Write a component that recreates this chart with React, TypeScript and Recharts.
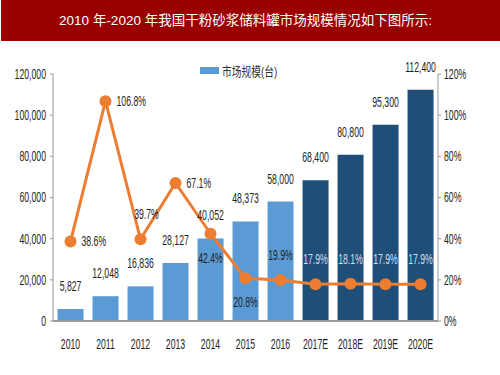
import React from 'react';
import { ComposedChart, Bar, Line, XAxis, YAxis, Cell, LabelList, Legend } from 'recharts';

const categories = ['2010', '2011', '2012', '2013', '2014', '2015', '2016', '2017E', '2018E', '2019E', '2020E'];
const marketSize = [5827, 12048, 16836, 28127, 40052, 48373, 58000, 68400, 80800, 95300, 112400];
const growthPct = [38.6, 106.8, 39.7, 67.1, 42.4, 20.8, 19.9, 17.9, 18.1, 17.9, 17.9];
const pctLabelPlacement = ['right', 'right', 'top', 'right', 'bottom', 'bottom', 'top', 'top', 'top', 'top', 'top'];
const leftTicks = [0, 20000, 40000, 60000, 80000, 100000, 120000];
const rightTicks = [0, 20, 40, 60, 80, 100, 120];

const data = categories.map((c, i) => ({ year: c, size: marketSize[i], pct: growthPct[i] }));

const FONT = "'Liberation Sans', Arial, 'Noto Sans CJK SC', sans-serif";
const LIGHT = '#5B9BD5';
const DARK = '#1F4E79';
const ORANGE = '#ED7D31';
const SX = 0.58;
const FS = 15;

const isEst = (c: string) => c.endsWith('E');

const CText = ({ x, y, anchor = 'middle', baseline = 'central', fill = '#1e1e1e', children }: any) => (
  <g transform={`translate(${x},${y}) scale(${SX},1)`}>
    <text x={0} y={0} textAnchor={anchor} dominantBaseline={baseline} fontSize={FS} fontFamily={FONT} fill={fill}>
      {children}
    </text>
  </g>
);

const XTick = ({ x, y, payload }: any) => (
  <CText x={x} y={y + 7}>{payload.value}</CText>
);
const LeftTick = ({ x, y, payload }: any) => (
  <CText x={x} y={y} anchor="end">{Number(payload.value).toLocaleString('en-US')}</CText>
);
const RightTick = ({ x, y, payload }: any) => (
  <CText x={x} y={y} anchor="start">{`${payload.value}%`}</CText>
);

const BarLabel = ({ x, y, width, value }: any) => (
  <CText x={x + width / 2} y={y - 23}>{Number(value).toLocaleString('en-US')}</CText>
);

const PctLabel = (props: any) => {
  const { x, y, index, value } = props;
  const place = pctLabelPlacement[index];
  const onDark = isEst(categories[index]);
  let tx = x, ty = y, anchor = 'middle';
  if (place === 'right') { tx = x + 11; anchor = 'start'; }
  else if (place === 'top') { ty = y - 25; tx = x + (index === 2 ? 6 : 0); }
  else { ty = y + 24; }
  return (
    <CText x={tx} y={ty} anchor={anchor} fill={onDark ? '#cfdff1' : '#1e1e1e'}>
      {`${Number(value).toFixed(1)}%`}
    </CText>
  );
};

const LegendContent = () => (
  <div style={{ display: 'flex', alignItems: 'center', fontFamily: FONT, fontSize: 13, color: '#333' }}>
    <span style={{ display: 'inline-block', width: 19, height: 7, background: LIGHT, marginRight: 3 }} />
    <span style={{ display: 'inline-block', transform: 'scaleX(0.75)', transformOrigin: 'left center', whiteSpace: 'nowrap' }}>市场规模(台)</span>
  </div>
);

export default function App() {
  return (
    <div style={{ position: 'absolute', left: 0, top: 0, width: 500, height: 375, background: '#fff' }}>
      <ComposedChart width={500} height={375} data={data}
        margin={{ top: 74, right: 20, bottom: 24, left: 0 }} barCategoryGap="13%">
        <XAxis dataKey="year" tickLine={false} tickSize={6} tickMargin={10} height={30}
          axisLine={{ stroke: '#9a9a9a', strokeWidth: 2 }}
          tick={<XTick />} interval={0} />
        <YAxis yAxisId="left" width={53} domain={[0, 120000]} ticks={leftTicks}
          axisLine={{ stroke: '#999' }} tickLine={{ stroke: '#999' }} tickSize={3} tickMargin={4}
          tick={<LeftTick />} />
        <YAxis yAxisId="right" orientation="right" width={42} domain={[0, 120]} ticks={rightTicks}
          axisLine={{ stroke: '#999' }} tickLine={{ stroke: '#999' }} tickSize={3} tickMargin={3}
          tick={<RightTick />} />
        <Legend layout="horizontal" verticalAlign="middle" align="center" content={<LegendContent />}
          wrapperStyle={{ top: 61, left: 200, width: 'auto', height: 'auto' }} />
        <Bar yAxisId="left" dataKey="size" name="市场规模(台)" isAnimationActive={false}>
          {data.map((d) => (
            <Cell key={d.year} fill={isEst(d.year) ? DARK : LIGHT} />
          ))}
          <LabelList dataKey="size" content={<BarLabel />} />
        </Bar>
        <Line yAxisId="right" dataKey="pct" stroke={ORANGE} strokeWidth={3}
          dot={{ r: 6, fill: ORANGE, stroke: ORANGE, strokeWidth: 0 }} activeDot={false}
          legendType="none" isAnimationActive={false}>
          <LabelList dataKey="pct" content={<PctLabel />} />
        </Line>
      </ComposedChart>
      <div style={{ position: 'absolute', left: 1, top: 0, width: 499, height: 41, background: '#9A0000',
        color: '#fff', fontSize: 13.5, lineHeight: '41px', textAlign: 'center', paddingRight: 10, boxSizing: 'border-box',
        fontFamily: "'Liberation Sans', 'Noto Sans CJK SC', sans-serif" }}>
        2010 年-2020 年我国干粉砂浆储料罐市场规模情况如下图所示:
      </div>
    </div>
  );
}
